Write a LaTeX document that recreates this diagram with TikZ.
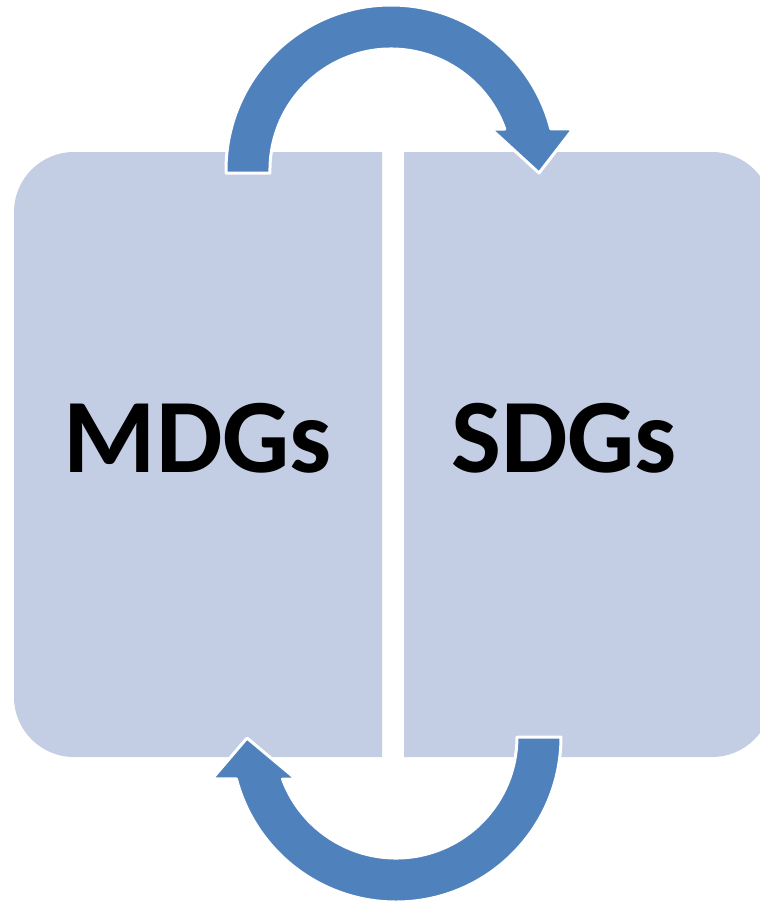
\documentclass[tikz,border=0pt]{standalone}
\usepackage{fontspec}
\setmainfont{Carlito}
\usepackage{tikz}
\definecolor{boxblue}{HTML}{C3CDE3}
\definecolor{arrowblue}{HTML}{4F81BD}
\tikzset{
  halfbox/.style={fill=boxblue},
  cyclearrow/.style={fill=arrowblue, draw=white, line width=3pt, line join=round},
  goallabel/.style={anchor=base, inner sep=0pt, font=\bfseries\fontsize{105.6}{110}\selectfont}
}

\begin{document}
\begin{tikzpicture}[x=1pt,y=-1pt]
\newcommand\ArcOut{165}
\newcommand\ArcIn{121}

\useasboundingbox (0,0) rectangle (760,903);
\clip (0,0) rectangle (760,903);

% the two halves
\fill[halfbox] (382,152) -- (74,152) arc[start angle=270, end angle=180, radius=60]
  -- (14,697) arc[start angle=180, end angle=90, radius=60] -- (382,757) -- cycle;
\fill[halfbox] (404,152) -- (712,152) arc[start angle=270, end angle=360, radius=60]
  -- (772,697) arc[start angle=0, end angle=90, radius=60] -- (404,757) -- cycle;

% upper arrow, left to right
\draw[cyclearrow] (226,173) -- (226,170) arc[start angle=180, end angle=345.6, radius=\ArcOut]
  -- (573,129) -- (539,173) -- (491,129)
  -- (504.8,129) arc[start angle=340.2, end angle=180, radius=\ArcIn] -- (270,173) -- cycle;

% lower arrow, right to left
\draw[cyclearrow] (561,737) arc[start angle=0, end angle=165.3, radius=\ArcOut]
  -- (212,779) -- (247,738) -- (296,779)
  -- (282.5,779) arc[start angle=159.7, end angle=0, radius=\ArcIn] -- cycle;

\node[goallabel] (mdgs) at (198,472) {MDGs};
\node[goallabel] (sdgs) at (564,472) {SDGs};

\end{tikzpicture}
\end{document}
